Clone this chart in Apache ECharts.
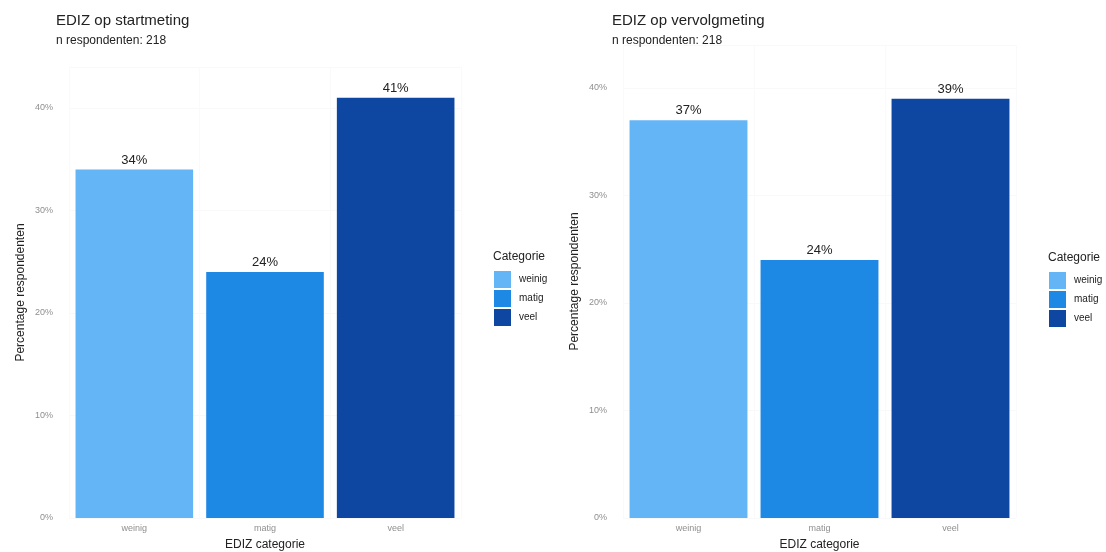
<!DOCTYPE html>
<html>
<head>
<meta charset="utf-8">
<script src="https://cdn.jsdelivr.net/npm/echarts@6/dist/echarts.min.js"></script>
<style>
  html, body { margin: 0; padding: 0; background: #ffffff; }
  #chart { width: 1106px; height: 552px; }
</style>
</head>
<body>
<div id="chart"></div>
<script>
// EDIZ categories and percentages of respondents
const categories = ['weinig', 'matig', 'veel'];
const startValues = [34, 24, 41];      // startmeting
const followValues = [37, 24, 39];     // vervolgmeting
const categoryColors = ['#64B5F6', '#1E88E5', '#0D47A1'];
const titles = ['EDIZ op startmeting', 'EDIZ op vervolgmeting'];
const subtitles = ['n respondenten: 218', 'n respondenten: 218'];
const yTicks = [0, 10, 20, 30, 40];

const FONT = '"Liberation Sans", Arial, sans-serif';

const grids = [
  { left: 69, width: 392, top: 67, bottom: 34, outerBoundsMode: 'none', containLabel: false },
  { left: 623, width: 393, top: 45, bottom: 34, outerBoundsMode: 'none', containLabel: false }
];

function yAxis(gridIndex) {
  return {
    type: 'value', gridIndex: gridIndex, min: 0, max: 44, interval: 10,
    name: 'Percentage respondenten', nameLocation: 'middle', nameGap: 42,
    nameTextStyle: { fontFamily: FONT, fontSize: 12, color: '#222' },
    axisLine: { show: false }, axisTick: { show: false },
    axisLabel: {
      fontFamily: FONT, fontSize: 9, color: '#8f8f8f', margin: 16,
      showMaxLabel: false,
      formatter: v => (yTicks.indexOf(v) >= 0 ? v + '%' : '')
    },
    splitLine: { lineStyle: { color: '#f9f9f9', width: 1 } }
  };
}

function xAxis(gridIndex) {
  return {
    type: 'category', gridIndex: gridIndex, data: categories,
    name: 'EDIZ categorie', nameLocation: 'middle', nameGap: 21,
    nameTextStyle: { fontFamily: FONT, fontSize: 12, color: '#222' },
    axisLine: { show: false }, axisTick: { show: false },
    axisLabel: { fontFamily: FONT, fontSize: 9, color: '#8f8f8f', margin: 6 },
    splitLine: { show: true, lineStyle: { color: '#fafafa', width: 1 } }
  };
}

// one series per category so the legend lists each category with its colour
function panelSeries(values, gridIndex) {
  return categories.map((cat, ci) => ({
    name: cat, type: 'bar', xAxisIndex: gridIndex, yAxisIndex: gridIndex,
    stack: 'panel' + gridIndex, barCategoryGap: '10%',
    itemStyle: { color: categoryColors[ci] },
    label: {
      show: true, position: 'top', distance: 3,
      fontFamily: FONT, fontSize: 13, color: '#222',
      formatter: p => Math.round(p.value) + '%'
    },
    data: values.map((v, i) => (i === ci ? v : '-'))
  }));
}

function legend(left, top) {
  return {
    left: left, top: top, orient: 'vertical', icon: 'rect',
    itemWidth: 17, itemHeight: 17, itemGap: 2,
    data: categories, selectedMode: false,
    textStyle: { fontFamily: FONT, fontSize: 10, color: '#222', padding: [0, 0, 0, 3] }
  };
}

const option = {
  backgroundColor: '#ffffff',
  animation: false,
  title: [
    { text: titles[0], subtext: subtitles[0], left: 51, top: 8, itemGap: 7,
      textStyle: { fontFamily: FONT, fontSize: 15, fontWeight: 'normal', color: '#222' },
      subtextStyle: { fontFamily: FONT, fontSize: 12, color: '#222' } },
    { text: titles[1], subtext: subtitles[1], left: 607, top: 8, itemGap: 7,
      textStyle: { fontFamily: FONT, fontSize: 15, fontWeight: 'normal', color: '#222' },
      subtextStyle: { fontFamily: FONT, fontSize: 12, color: '#222' } },
    { text: 'Categorie', left: 488, top: 246,
      textStyle: { fontFamily: FONT, fontSize: 12, fontWeight: 'normal', color: '#222' } },
    { text: 'Categorie', left: 1043, top: 247,
      textStyle: { fontFamily: FONT, fontSize: 12, fontWeight: 'normal', color: '#222' } }
  ],
  legend: [legend(489, 266), legend(1044, 267)],
  grid: grids,
  xAxis: [xAxis(0), xAxis(1)],
  yAxis: [yAxis(0), yAxis(1)],
  series: panelSeries(startValues, 0).concat(panelSeries(followValues, 1))
};

const chart = echarts.init(document.getElementById('chart'), null, { renderer: 'canvas' });
chart.setOption(option);
</script>
</body>
</html>
